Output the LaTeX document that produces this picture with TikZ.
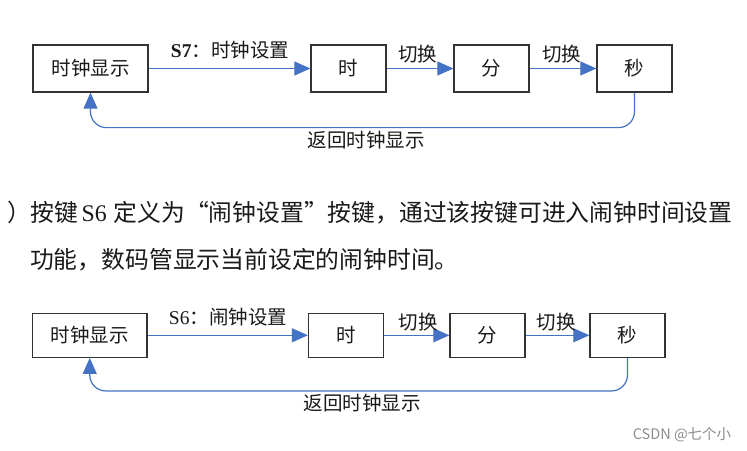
\documentclass[tikz,border=0pt]{standalone}
\usepackage{fontspec}
\setmainfont{Liberation Serif}
\newfontfamily\cjk{Noto Sans CJK SC}
\newfontfamily\tnr{Liberation Serif}
\usetikzlibrary{arrows.meta}
\definecolor{lineblue}{HTML}{4472C4}
\definecolor{boxgray}{HTML}{333333}
\definecolor{txt}{HTML}{1A1A1A}
\definecolor{wm}{HTML}{8C8C8C}
\tikzset{
  stbox/.style={draw=boxgray, line width=1.3bp, minimum width=75bp, minimum height=47bp,
    inner sep=0pt, text=txt, font=\cjk\fontsize{19.5bp}{22bp}\selectfont},
  flow/.style={draw=lineblue, line width=1.2bp, -{Triangle[length=16bp,width=14bp]}},
  lbl/.style={inner sep=0pt, text=txt, font=\cjk\fontsize{19.5bp}{22bp}\selectfont},
  para/.style={inner sep=0pt, anchor=west, text=txt, font=\cjk\fontsize{23.8bp}{26bp}\selectfont},
}
\begin{document}
\begin{tikzpicture}[x=1bp,y=-1bp]
\useasboundingbox[fill=white] (0,0) rectangle (747,451);

% ---------- top diagram ----------
\node[stbox, minimum width=115bp] (c1) at (90.5,68.5) {时钟显示};
\node[stbox] (h1) at (348.5,68.5) {时};
\node[stbox] (m1) at (491.5,68.5) {分};
\node[stbox] (s1) at (634.5,68.5) {秒};
\draw[flow] (c1) -- (h1);
\draw[flow] (h1) -- (m1);
\draw[flow] (m1) -- (s1);
\draw[flow, rounded corners=16bp] (s1.south) -- ++(0,35) -| (c1.south);
\node[lbl] (t1) at (230,50) {{\tnr\bfseries S7}：时钟设置};
\node[lbl] (q1) at (417.5,54) {切换};
\node[lbl] (q2) at (561.5,54) {切换};
\node[lbl] (r1) at (366,140) {返回时钟显示};

% ---------- paragraph ----------
\node[para] (p1) at (7,212.5) {）按键\hspace{3bp}{\tnr S6}\hspace{7bp}定义为\makebox[1em][l]{“}闹钟设置\makebox[1em][l]{”}按键，通过该按键可进入闹钟时间设置};
\node[para] (p2) at (30,260) {功能，数码管显示当前设定的闹钟时间。};

% ---------- bottom diagram ----------
\node[stbox, minimum width=114.5bp, minimum height=44bp] (c2) at (89.75,335.3) {时钟显示};
\node[stbox, minimum height=44bp] (h2) at (346,335.3) {时};
\node[stbox, minimum height=44bp] (m2) at (487.5,335.3) {分};
\node[stbox, minimum height=44bp] (s2) at (627.5,335.3) {秒};
\draw[flow] (c2) -- (h2);
\draw[flow] (h2) -- (m2);
\draw[flow] (m2) -- (s2);
\draw[flow, rounded corners=16bp] (s2.south) -- ++(0,33) -| (c2.south);
\node[lbl] (t2) at (228,316.7) {{\tnr S6}：闹钟设置};
\node[lbl] (q3) at (418,321.7) {切换};
\node[lbl] (q4) at (556,321.7) {切换};
\node[lbl] (r2) at (362,403) {返回时钟显示};

% ---------- watermark ----------
\node[inner sep=0pt, text=wm, font=\cjk\fontsize{14.5bp}{16bp}\selectfont] (wmk) at (682,435) {CSDN @七个小};
\end{tikzpicture}
\end{document}
